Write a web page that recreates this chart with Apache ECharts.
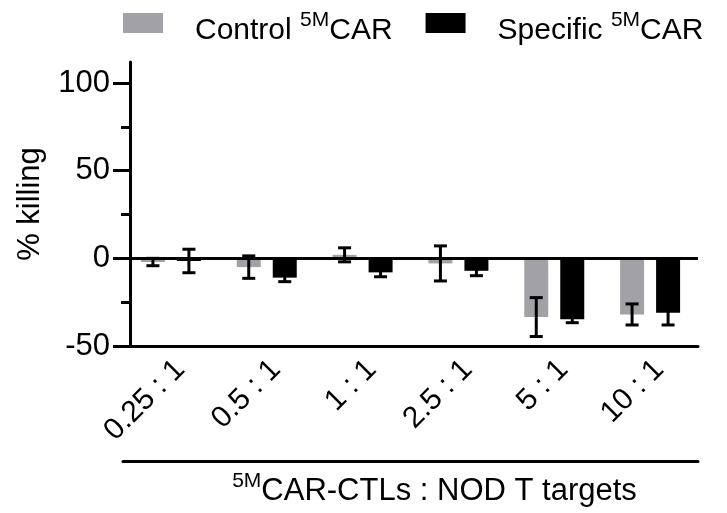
<!DOCTYPE html>
<html>
<head>
<meta charset="utf-8">
<script src="https://cdn.jsdelivr.net/npm/echarts@6/dist/echarts.min.js"></script>
<style>
  html, body { margin: 0; padding: 0; background: #fff; }
  #chart { width: 727px; height: 513px; }
</style>
</head>
<body>
<div id="chart"></div>
<script>
// ratios E:T
const categories = ['0.25 : 1', '0.5 : 1', '1 : 1', '2.5 : 1', '5 : 1', '10 : 1']
// % killing, mean and error
const controlMean = [-2.1, -5, 2, -2.9, -33.5, -32]
const controlErr = [2.1, 6.4, 4, 10, 11.1, 6]
const specificMean = [-1.5, -11, -8, -7.1, -34.7, -31]
const specificErr = [6.7, 2.3, 2.5, 2.8, 2, 7]
const majorTicks = [-50, 0, 50, 100]
const minorTicks = [-25, 25, 75]

const font = 'Liberation Sans, Arial, sans-serif'
const chart = echarts.init(document.getElementById('chart'))

const richText = size => ({
  t: { fontSize: size, lineHeight: 36, verticalAlign: 'bottom', color: '#000', fontFamily: font },
  sup: { fontSize: 21, lineHeight: 20, verticalAlign: 'top', color: '#000', fontFamily: font }
})
const toRich = s => s.split('5M').map(p => p ? '{t|' + p + '}' : '').join('{sup|5M}')

// error bars drawn on top of the bars, shifted left/right like the bars
const errorSeries = (mean, err, shift) => ({
  type: 'custom',
  z: 5,
  silent: true,
  data: mean.map((m, i) => [i, m, err[i]]),
  encode: { x: 0, y: 1 },
  renderItem: (params, api) => {
    const x = api.value(0), m = api.value(1), e = api.value(2)
    const hi = api.coord([x, m + e])
    const lo = api.coord([x, m - e])
    const cx = hi[0] + shift
    const cap = 6.5
    const st = { stroke: '#000', lineWidth: 3 }
    return {
      type: 'group',
      children: [
        { type: 'line', shape: { x1: cx, y1: hi[1], x2: cx, y2: lo[1] }, style: st },
        { type: 'line', shape: { x1: cx - cap, y1: hi[1], x2: cx + cap, y2: hi[1] }, style: st },
        { type: 'line', shape: { x1: cx - cap, y1: lo[1], x2: cx + cap, y2: lo[1] }, style: st }
      ]
    }
  }
})

const option = {
  animation: false,
  textStyle: { fontFamily: font },
  legend: {
    data: ['Control 5MCAR', 'Specific 5MCAR'],
    left: 123,
    top: 10,
    padding: 0,
    icon: 'rect',
    itemWidth: 40,
    itemHeight: 20,
    itemGap: 33,
    formatter: name => toRich(name),
    textStyle: { fontSize: 30, color: '#000', padding: [10, 0, 0, 27], rich: richText(30) }
  },
  grid: { left: 123, right: 29, top: 62, bottom: 167 },
  xAxis: [{
    type: 'category',
    data: categories,
    axisLine: { onZero: false, lineStyle: { color: '#000', width: 3 } },
    axisTick: { alignWithLabel: true, length: 6, lineStyle: { color: '#000', width: 3 } },
    axisLabel: { interval: 0, rotate: 45, margin: 28, padding: [0, -13, 0, 0], fontSize: 30, color: '#000', fontFamily: font }
  }, {
    type: 'category',
    data: categories,
    position: 'bottom',
    offset: 115,
    axisLine: { onZero: false, lineStyle: { color: '#000', width: 3 } },
    axisTick: { show: false },
    axisLabel: { show: false },
    name: toRich('5MCAR-CTLs : NOD T targets'),
    nameLocation: 'middle',
    nameGap: 10,
    nameTextStyle: { fontSize: 31, color: '#000', padding: [0, 0, 0, 48], rich: richText(31) }
  }],
  yAxis: [{
    type: 'value',
    position: 'left',
    min: -50,
    max: 112,
    interval: 50,
    offset: -7,
    name: '% killing',
    nameLocation: 'middle',
    nameGap: 84,
    nameTextStyle: { fontSize: 31, color: '#000', fontFamily: font },
    axisLine: { show: true, lineStyle: { color: '#000', width: 3 } },
    axisTick: { show: true, customValues: majorTicks, length: 17, lineStyle: { color: '#000', width: 3 } },
    axisLabel: { customValues: majorTicks, margin: 20, fontSize: 31, color: '#000', fontFamily: font },
    splitLine: { show: false }
  }, {
    type: 'value',
    position: 'left',
    min: -50,
    max: 112,
    interval: 50,
    offset: -7,
    axisLine: { show: false },
    axisTick: { show: true, customValues: minorTicks, length: 9, lineStyle: { color: '#000', width: 3 } },
    axisLabel: { show: false },
    splitLine: { show: false }
  }],
  series: [{
    name: 'Control 5MCAR',
    type: 'bar',
    data: controlMean,
    barWidth: 24,
    barGap: '50%',
    itemStyle: { color: '#a2a2a6' },
    markLine: {
      silent: true,
      symbol: ['none', 'none'],
      label: { show: false },
      lineStyle: { color: '#000', width: 3, type: 'solid' },
      data: [{ yAxis: 0 }]
    }
  }, {
    name: 'Specific 5MCAR',
    type: 'bar',
    data: specificMean,
    barWidth: 24,
    barGap: '50%',
    itemStyle: { color: '#000' }
  },
  errorSeries(controlMean, controlErr, -18),
  errorSeries(specificMean, specificErr, 18)
  ]
}
chart.setOption(option)
</script>
</body>
</html>
